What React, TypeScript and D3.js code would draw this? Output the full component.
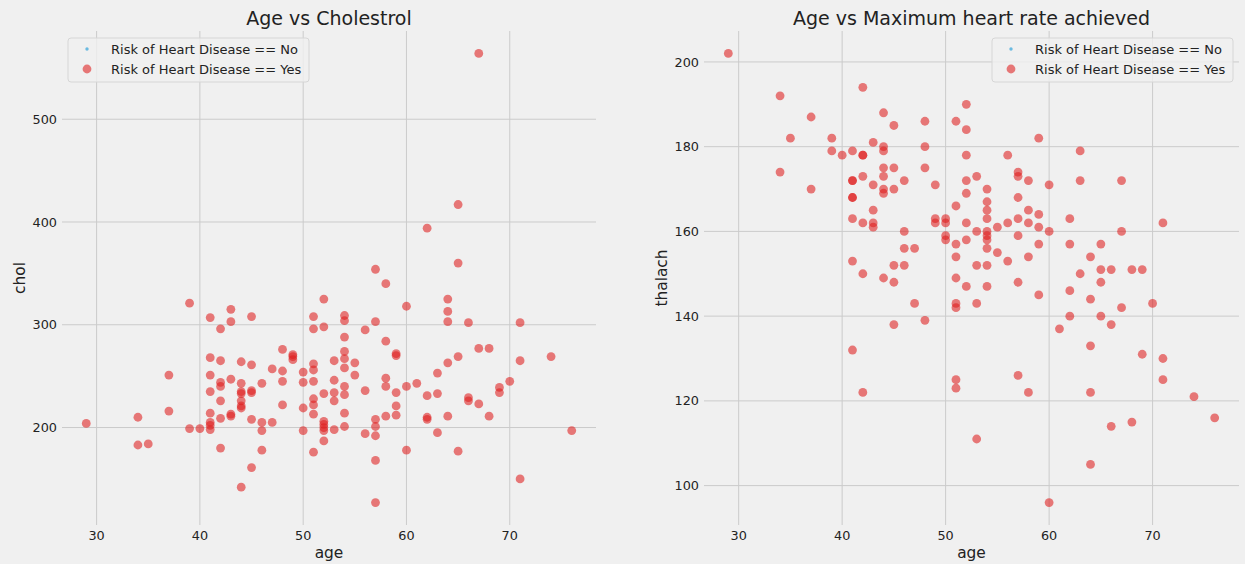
import React from 'react';
import * as d3 from 'd3';

// one entry per patient, grouped by age; chol and thalach follow the same order
const ages = [
  29, 34, 34, 35, 37, 37, 39, 39, 40,
  41, 41, 41, 41, 41, 41, 41, 41,
  42, 42, 42, 42, 42, 42, 42,
  43, 43, 43, 43, 43,
  44, 44, 44, 44, 44, 44, 44, 44,
  45, 45, 45, 45, 45, 45,
  46, 46, 46, 46, 47, 47,
  48, 48, 48, 48, 49, 49, 49,
  50, 50, 50, 50,
  51, 51, 51, 51, 51, 51, 51, 51, 51,
  52, 52, 52, 52, 52, 52, 52, 52,
  53, 53, 53, 53, 53,
  54, 54, 54, 54, 54, 54, 54, 54, 54, 54,
  55, 55, 56, 56, 56,
  57, 57, 57, 57, 57, 57, 57,
  58, 58, 58, 58, 58,
  59, 59, 59, 59, 59,
  60, 60, 60, 61,
  62, 62, 62, 62, 63, 63, 63,
  64, 64, 64, 64, 64,
  65, 65, 65, 65, 66, 66, 66, 67, 67, 67,
  68, 68, 69, 69, 70, 71, 71, 71, 74, 76,
];

const chol = [
  204, 210, 183, 184, 251, 216, 321, 199, 199,
  307, 268, 251, 235, 214, 205, 202, 198,
  296, 265, 244, 240, 226, 209, 180,
  315, 303, 247, 213, 211,
  264, 243, 235, 233, 226, 221, 219, 142,
  308, 261, 236, 234, 208, 161,
  243, 205, 197, 178, 257, 205,
  276, 255, 245, 222, 271, 269, 266,
  254, 244, 219, 197,
  308, 296, 262, 256, 245, 228, 222, 213, 176,
  325, 298, 233, 206, 203, 200, 197, 187,
  265, 246, 234, 226, 198,
  309, 304, 288, 274, 267, 258, 240, 232, 214, 201,
  263, 251, 295, 236, 194,
  354, 303, 208, 201, 192, 168, 127,
  340, 284, 248, 240, 211,
  272, 270, 234, 221, 212,
  318, 240, 178, 243,
  394, 231, 210, 208, 253, 233, 195,
  325, 313, 303, 263, 211,
  417, 360, 269, 177, 302, 229, 226, 564, 277, 223,
  277, 211, 239, 234, 245, 302, 265, 150, 269, 197,
];

const thalach = [
  202, 192, 174, 182, 187, 170, 182, 179, 178,
  179, 172, 172, 168, 168, 163, 153, 132,
  194, 178, 178, 173, 162, 150, 122,
  181, 171, 165, 162, 161,
  188, 180, 179, 175, 173, 170, 169, 149,
  185, 175, 170, 152, 148, 138,
  172, 160, 156, 152, 156, 143,
  186, 180, 175, 139, 171, 163, 162,
  163, 162, 159, 158,
  186, 166, 157, 154, 149, 143, 142, 125, 123,
  190, 184, 178, 172, 169, 162, 158, 147,
  173, 160, 152, 143, 111,
  170, 167, 165, 163, 160, 159, 158, 156, 152, 147,
  161, 155, 178, 162, 153,
  174, 173, 168, 163, 159, 148, 126,
  172, 165, 162, 154, 122,
  182, 164, 161, 157, 145,
  171, 160, 96, 137,
  163, 157, 146, 140, 179, 172, 150,
  154, 144, 133, 122, 105,
  157, 151, 148, 140, 151, 138, 114, 172, 160, 142,
  151, 115, 151, 131, 143, 162, 130, 125, 121, 116,
];

const ageTicks = [30, 40, 50, 60, 70];
const cholTicks = [200, 300, 400, 500];
const thalachTicks = [100, 120, 140, 160, 180, 200];
const legendLabels = ['Risk of Heart Disease == No', 'Risk of Heart Disease == Yes'];

const W = 1245;
const H = 564;
const FONT = '"DejaVu Sans", sans-serif';
const BG = '#f0f0f0';
const GRID = '#cbcbcb';
const TEXT = '#222';
const DOT = 'rgb(222,30,30)';

// matplotlib-style autoscale: 5% margin on each side
function padded(vals: number[]): [number, number] {
  const [lo, hi] = d3.extent(vals) as [number, number];
  const p = (hi - lo) * 0.05;
  return [lo - p, hi + p];
}

type PanelProps = {
  left: number;
  right: number;
  values: number[];
  yTicks: number[];
  title: string;
  yLabel: string;
  legendAt: 'left' | 'right';
};

function Panel({ left, right, values, yTicks, title, yLabel, legendAt }: PanelProps) {
  const top = 31;
  const bottom = 525;
  const x = d3.scaleLinear().domain(padded(ages)).range([left, right]);
  const y = d3.scaleLinear().domain(padded(values)).range([bottom, top]);
  const cx = (left + right) / 2;
  const cy = (top + bottom) / 2;

  const legW = 241;
  const legX = legendAt === 'left' ? left + 6 : right - 6 - legW;
  const legY = 38;

  return (
    <g>
      {/* grid */}
      {ageTicks.map((t) => (
        <line key={'gx' + t} x1={x(t)} x2={x(t)} y1={top} y2={bottom} stroke={GRID} strokeWidth={1} />
      ))}
      {yTicks.map((t) => (
        <line key={'gy' + t} x1={left} x2={right} y1={y(t)} y2={y(t)} stroke={GRID} strokeWidth={1} />
      ))}

      {/* tick labels */}
      {ageTicks.map((t) => (
        <text key={'tx' + t} x={x(t)} y={bottom + 15} textAnchor="middle" fontSize={12.8} fill={TEXT}>
          {t}
        </text>
      ))}
      {yTicks.map((t) => (
        <text key={'ty' + t} x={left - 5} y={y(t) + 4.6} textAnchor="end" fontSize={12.8} fill={TEXT}>
          {t}
        </text>
      ))}

      {/* points */}
      {ages.map((a, i) => (
        <circle key={i} cx={x(a)} cy={y(values[i])} r={4.4} fill={DOT} fillOpacity={0.58} />
      ))}

      {/* labels */}
      <text x={cx} y={25} textAnchor="middle" fontSize={19} fill={TEXT}>
        {title}
      </text>
      <text x={cx} y={558} textAnchor="middle" fontSize={15.4} fill={TEXT}>
        age
      </text>
      <text
        transform={`translate(${left - 37},${cy}) rotate(-90)`}
        textAnchor="middle"
        fontSize={15.4}
        fill={TEXT}
      >
        {yLabel}
      </text>

      {/* legend */}
      <g transform={`translate(${legX},${legY})`}>
        <rect x={0} y={0} width={legW} height={44} rx={3} fill={BG} fillOpacity={0.8} stroke="#d6d6d6" strokeWidth={1} />
        <circle cx={19} cy={11} r={1.7} fill="#30a2da" fillOpacity={0.7} />
        <circle cx={19} cy={31} r={4.4} fill={DOT} fillOpacity={0.58} />
        {legendLabels.map((l, i) => (
          <text key={l} x={43} y={11 + i * 20 + 4.7} fontSize={13} fill={TEXT}>
            {l}
          </text>
        ))}
      </g>
    </g>
  );
}

export default function App() {
  return (
    <svg
      width={W}
      height={H}
      style={{ position: 'absolute', left: 0, top: 0, fontFamily: FONT }}
    >
      <rect x={0} y={0} width={W} height={H} fill={BG} />
      <Panel
        left={62}
        right={596}
        values={chol}
        yTicks={cholTicks}
        title="Age vs Cholestrol"
        yLabel="chol"
        legendAt="left"
      />
      <Panel
        left={704}
        right={1239}
        values={thalach}
        yTicks={thalachTicks}
        title="Age vs Maximum heart rate achieved"
        yLabel="thalach"
        legendAt="right"
      />
    </svg>
  );
}
